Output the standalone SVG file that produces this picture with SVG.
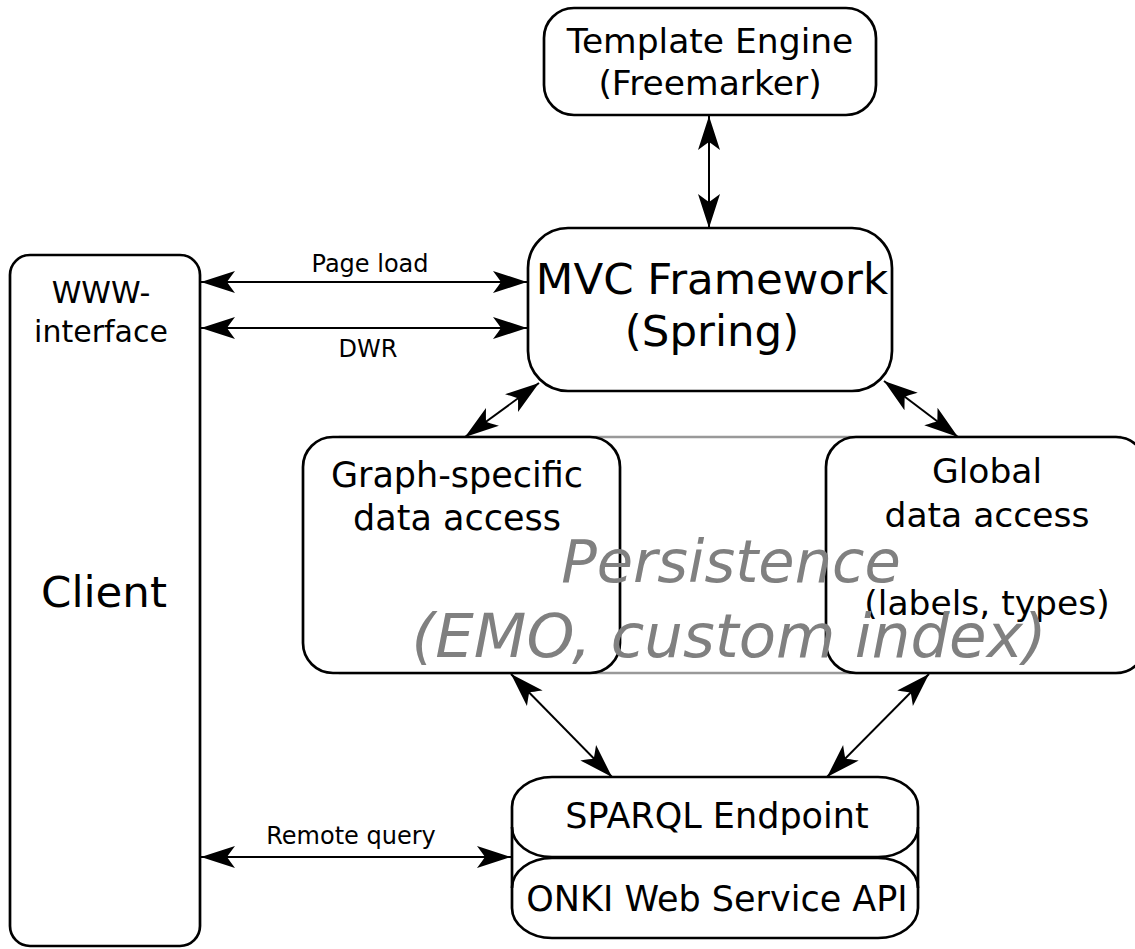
<svg xmlns="http://www.w3.org/2000/svg" width="1135" height="949" viewBox="0 0 1135 949">
<style>
  .box { fill: #fff; stroke: #000; stroke-width: 2.7; }
  .t { font-family: "DejaVu Sans", "Liberation Sans", sans-serif; fill: #000; text-anchor: middle; }
  .lbl { font-family: "DejaVu Sans", "Liberation Sans", sans-serif; font-size: 24px; fill: #000; text-anchor: middle; }
  .conn { stroke: #000; stroke-width: 2; fill: none; marker-start: url(#ah); marker-end: url(#ah); }
  .pers { font-family: "DejaVu Sans", "Liberation Sans", sans-serif; font-style: italic; fill: #808080; text-anchor: middle; }
</style>
<defs>
  <marker id="ah" markerUnits="userSpaceOnUse" markerWidth="40" markerHeight="30" viewBox="-36 -15 40 30" refX="0" refY="0" orient="auto-start-reverse" overflow="visible">
    <path d="M0,0 L-34,-11 Q-28,-3 -26,0 Q-28,3 -34,11 Z" fill="#000"/>
  </marker>
</defs>
<rect width="1135" height="949" fill="#fff"/>

<g id="persistence-frame">
  <rect x="340" y="437" width="780" height="236" fill="none" stroke="#999" stroke-width="2.5"/>
</g>

<g id="template-engine">
  <rect class="box" x="544" y="8" width="332" height="107" rx="30" ry="30"/>
  <text class="t" x="710" y="53" font-size="34.5">Template Engine</text>
  <text class="t" x="710" y="95" font-size="34.5">(Freemarker)</text>
</g>

<g id="mvc-framework">
  <rect class="box" x="528" y="228" width="364" height="163" rx="40" ry="40"/>
  <text class="t" x="712" y="294" font-size="43.5">MVC Framework</text>
  <text class="t" x="712" y="346" font-size="43.5">(Spring)</text>
</g>

<g id="client">
  <rect class="box" x="10" y="255" width="190" height="691" rx="20" ry="20"/>
  <text class="t" x="101" y="303" font-size="30">WWW-</text>
  <text class="t" x="101" y="342" font-size="30">interface</text>
  <text class="t" x="104" y="607" font-size="43.5">Client</text>
</g>

<g id="graph-specific">
  <rect class="box" x="303" y="437" width="317" height="236" rx="30" ry="30"/>
  <text class="t" x="457" y="487" font-size="35">Graph-specific</text>
  <text class="t" x="457" y="530" font-size="35">data access</text>
</g>

<g id="global-access">
  <rect class="box" x="826" y="437" width="320" height="236" rx="30" ry="30"/>
  <text class="t" x="987" y="483" font-size="34.5">Global</text>
  <text class="t" x="987" y="527" font-size="34.5">data access</text>
  <text class="t" x="987" y="615" font-size="34.5">(labels, types)</text>
</g>

<g id="persistence-label">
  <text class="pers" x="731" y="582" font-size="59">Persistence</text>
  <text class="pers" x="729" y="657" font-size="61">(EMO, custom index)</text>
</g>

<g id="sparql">
  <rect class="box" x="512" y="777" width="406" height="80" rx="40" ry="30"/>
  <rect class="box" x="512" y="858" width="406" height="80" rx="40" ry="30"/>
  <line x1="512" y1="827" x2="512" y2="888" stroke="#000" stroke-width="2.7"/>
  <line x1="918" y1="827" x2="918" y2="888" stroke="#000" stroke-width="2.7"/>
  <text class="t" x="717" y="828" font-size="35">SPARQL Endpoint</text>
  <text class="t" x="717" y="911" font-size="35">ONKI Web Service API</text>
</g>

<g id="connectors">
  <path class="conn" d="M709,116 L709,228"/>
  <path class="conn" d="M201,282 L527,282"/>
  <path class="conn" d="M201,328 L527,328"/>
  <path class="conn" d="M201,857 L511,857"/>
  <path class="conn" d="M539,383 L465,437"/>
  <path class="conn" d="M884,381 L958,437"/>
  <path class="conn" d="M511,674 L612,777"/>
  <path class="conn" d="M929,674 L827,777"/>
  <text class="lbl" x="370" y="272">Page load</text>
  <text class="lbl" x="368" y="357">DWR</text>
  <text class="lbl" x="351" y="844">Remote query</text>
</g>
</svg>
